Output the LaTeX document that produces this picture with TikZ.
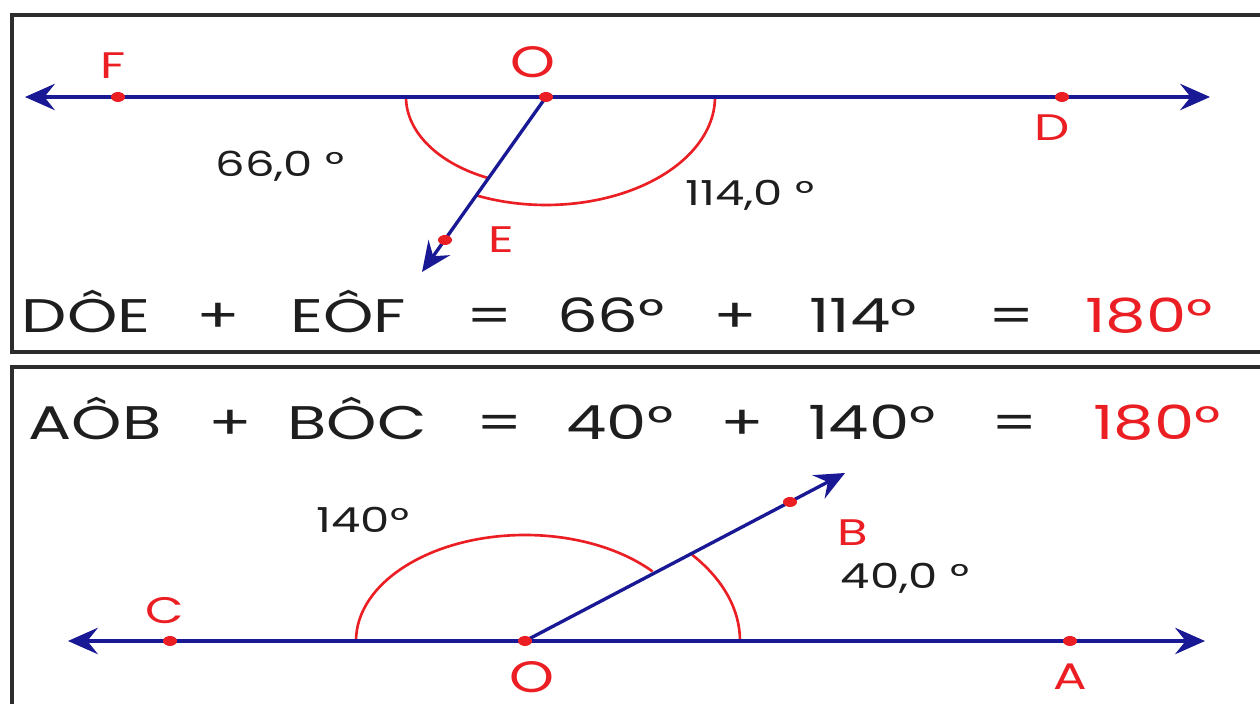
\documentclass[tikz,border=0pt]{standalone}
\usepackage{fontspec}
\setmainfont{Poppins}
\usetikzlibrary{arrows.meta}
\definecolor{navy}{RGB}{25,25,150}
\definecolor{ptred}{RGB}{235,30,35}
\definecolor{txt}{RGB}{30,30,30}
\definecolor{frame}{RGB}{45,45,45}
\newcommand\sx[2]{\scalebox{#1}[1]{#2}}
\begin{document}
\begin{tikzpicture}[x=0.01cm,y=-0.01cm,
  tipA/.tip={Stealth[length=8.5pt,width=7.5pt,inset=3pt]},
  blueline/.style={navy, line width=0.95pt},
  arcline/.style={ptred, line width=0.75pt},
  frameline/.style={frame, line width=1.1pt},
  eq/.style={font=\fontsize{13.4}{16}\selectfont, text=txt, anchor=base, inner sep=0pt},
  eqred/.style={eq, text=ptred},
  ptlabel/.style={font=\fontsize{10.5}{12}\selectfont, text=ptred, inner sep=0pt},
  anglabel/.style={font=\fontsize{9.8}{12}\selectfont, text=txt, inner sep=0pt},
  dot/.style={ptred}]
\useasboundingbox (0,0) rectangle (1260,704);
\clip (0,0) rectangle (1260,704);
\fill[white] (0,0) rectangle (1260,704);

% frames
\draw[frameline] (1300,15) -| (12,352) -- (1300,352);
\draw[frameline] (1300,367) -| (12,720);

% ---------- top panel ----------
\coordinate (O1) at (546,97);
\coordinate (F) at (118,97);
\coordinate (D) at (1062,97);
\coordinate (E) at (445,240);
\coordinate (L1) at (25,97);
\coordinate (R1) at (1210,97);
\coordinate (T1) at (422,272);

\draw[arcline] (O1) ++(-140,0) arc[start angle=180, end angle=114, x radius=140, y radius=89];
\draw[arcline] (O1) ++(169,0) arc[start angle=0, end angle=114, x radius=169, y radius=108];

\draw[blueline, tipA-tipA] (L1) -- (R1);
\draw[blueline, -tipA] (O1) -- (T1);

\foreach \p in {F,O1,D,E} \fill[dot] (\p) ellipse [x radius=7, y radius=5];

\node[ptlabel] (lF) at (113,66) {\sx{1.35}{F}};
\node[ptlabel, font=\fontsize{12.5}{14}\selectfont] (lO1) at (533,62) {\sx{1.3}{O}};
\node[ptlabel] (lD) at (1052,128) {\sx{1.35}{D}};
\node[ptlabel] (lE) at (501,240) {\sx{1.35}{E}};
\node[anglabel] (a66) at (280,166) {\sx{1.35}{66,0 °}};
\node[anglabel] (a114) at (750,195) {\sx{1.35}{114,0 °}};

\node[eq] (e1) at (86,333) {\sx{1.36}{DÔE}};
\node[eq] (e2) at (218,333) {\sx{1.36}{+}};
\node[eq] (e3) at (348,333) {\sx{1.36}{EÔF}};
\node[eq] (e4) at (490,333) {\sx{1.36}{=}};
\node[eq] (e5) at (611,333) {\sx{1.36}{66°}};
\node[eq] (e6) at (735,333) {\sx{1.36}{+}};
\node[eq] (e7) at (863,333) {\sx{1.36}{114°}};
\node[eq] (e8) at (1012,333) {\sx{1.36}{=}};
\node[eqred] (e9) at (1149,333) {\sx{1.36}{180°}};

% ---------- bottom panel ----------
\coordinate (O2) at (525,641);
\coordinate (C) at (170,641);
\coordinate (A) at (1070,641);
\coordinate (B) at (790,502);
\coordinate (L2) at (68,641);
\coordinate (R2) at (1205,641);
\coordinate (T2) at (845,473);

\draw[arcline] (O2) ++(-169,0) arc[start angle=180, end angle=319, x radius=169, y radius=106];
\draw[arcline] (O2) ++(215,0) arc[start angle=360, end angle=321, x radius=215, y radius=137];

\draw[blueline, tipA-tipA] (L2) -- (R2);
\draw[blueline, -tipA] (O2) -- (T2);

\foreach \p in {C,O2,A,B} \fill[dot] (\p) ellipse [x radius=7, y radius=5];

\node[ptlabel] (lC) at (165,611) {\sx{1.35}{C}};
\node[ptlabel, font=\fontsize{12.5}{14}\selectfont] (lO2) at (532,677) {\sx{1.3}{O}};
\node[ptlabel] (lA) at (1070,677) {\sx{1.35}{A}};
\node[ptlabel] (lB) at (853,533) {\sx{1.35}{B}};
\node[anglabel] (a40) at (905,578) {\sx{1.35}{40,0 °}};
\node[anglabel] (a140) at (363,520) {\sx{1.35}{140°}};

\node[eq] (f1) at (95,440) {\sx{1.36}{AÔB}};
\node[eq] (f2) at (230,440) {\sx{1.36}{+}};
\node[eq] (f3) at (357,440) {\sx{1.36}{BÔC}};
\node[eq] (f4) at (500,440) {\sx{1.36}{=}};
\node[eq] (f5) at (620,440) {\sx{1.36}{40°}};
\node[eq] (f6) at (742,440) {\sx{1.36}{+}};
\node[eq] (f7) at (872,440) {\sx{1.36}{140°}};
\node[eq] (f8) at (1015,440) {\sx{1.36}{=}};
\node[eqred] (f9) at (1157,440) {\sx{1.36}{180°}};
\end{tikzpicture}
\end{document}
